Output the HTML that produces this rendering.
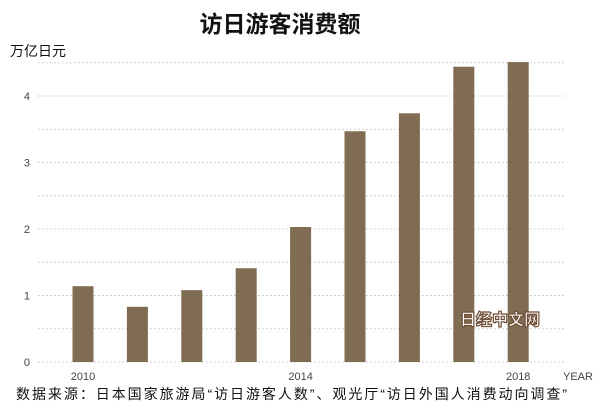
<!DOCTYPE html>
<html><head><meta charset="utf-8"><style>
body{margin:0;background:#fff;width:600px;height:409px;overflow:hidden;font-family:"Liberation Sans","Noto Sans CJK SC",sans-serif}
</style></head><body>
<svg width="600" height="409" id="c">
<text x="280" y="32" text-anchor="middle" font-size="23" font-weight="bold" fill="#111" font-family="Liberation Sans, Noto Sans CJK SC, sans-serif">访日游客消费额</text>
<text x="10" y="56" font-size="14" fill="#111" font-family="Liberation Sans, Noto Sans CJK SC, sans-serif">万亿日元</text>
<text x="563" y="380" font-size="11" fill="#444">YEAR</text>
<text x="16" y="399" font-size="14" fill="#111" textLength="551" lengthAdjust="spacing" font-family="Liberation Sans, Noto Sans CJK SC, sans-serif">数据来源：日本国家旅游局“访日游客人数”、观光厅“访日外国人消费动向调查”</text>
<g id="grid"></g><g id="bars"></g><g id="labels"></g>
<text x="500" y="325" font-size="16" font-weight="900" fill="#fff" stroke="#6e4e36" stroke-width="1.2" text-anchor="middle" font-family="Noto Sans CJK SC, sans-serif">日经中文网</text>
</svg>
<script>
const years=[2010,2011,2012,2013,2014,2015,2016,2017,2018];
const values=[1.14,0.83,1.08,1.41,2.03,3.47,3.74,4.44,4.51];
const yTicks=[0,1,2,3,4];
const xTickLabels=["2010","2014","2018"];
const ns="http://www.w3.org/2000/svg";
const y=v=>362-v*66.5;
const x=i=>83+i*54.4;
const g=document.getElementById('grid'),b=document.getElementById('bars'),l=document.getElementById('labels');
function mk(t,a,p){const e=document.createElementNS(ns,t);for(const k in a)e.setAttribute(k,a[k]);p.appendChild(e);return e;}
for(let v=0;v<=4.5;v+=0.5){
 const e=mk('line',{x1:38,x2:565,y1:y(v),y2:y(v),stroke:'#c4c4c4','stroke-dasharray':'1.5,2.5','stroke-width':1},g);
 
 
}
yTicks.forEach(v=>{
 const t=mk('text',{x:30,y:y(v)+4,'font-size':11,fill:'#444','text-anchor':'end'},l);t.textContent=v;
 
 
});
values.forEach((v,i)=>{
 const r=mk('rect',{x:x(i)-10.5,y:y(v),width:21,height:y(0)-y(v),fill:'#806c52'},b);
 
 
});
xTickLabels.forEach(s=>{
 const i=years.indexOf(+s);
 const t=mk('text',{x:x(i),y:380,'font-size':11,fill:'#444','text-anchor':'middle'},l);t.textContent=s;
 
 
});
</script>
</body></html>
